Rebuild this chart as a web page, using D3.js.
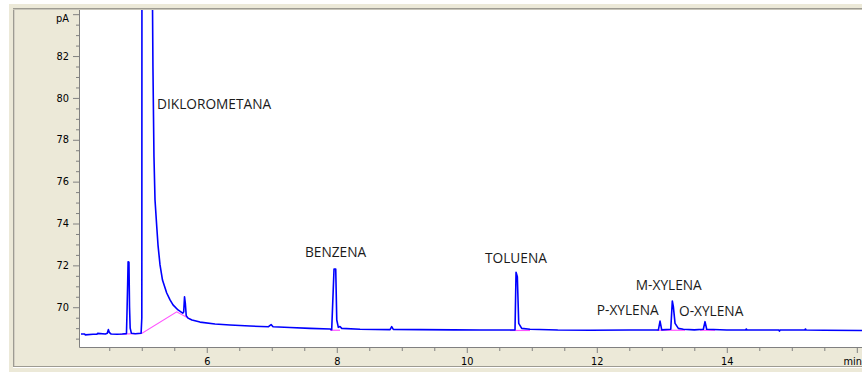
<!DOCTYPE html>
<html><head><meta charset="utf-8">
<script src="https://cdn.jsdelivr.net/npm/d3@7"></script>
<style>
html,body{margin:0;padding:0;background:#fff;}
svg{display:block;}
</style></head>
<body>
<svg id="chart" width="862" height="375"></svg>
<script>
// ---- data (retention time in min, signal in pA) ----
const times = [4.05,4.12,4.13,4.25,4.31,4.32,4.44,4.47,4.486,4.50,4.53,4.62,4.70,4.765,4.775,4.783,4.79,4.803,4.812,4.822,4.84,4.90,4.99,
  5.001,5.004,5.158,5.166,5.172,5.188,5.204,5.230,5.250,5.281,5.319,5.384,5.435,5.481,5.558,5.630,5.645,5.658,5.670,5.684,5.712,5.773,5.896,
  6.127,6.358,6.665,6.95,6.99,7.02,7.28,7.588,7.896,7.922,7.958,7.984,8.000,8.024,8.05,8.076,8.358,8.82,8.845,8.87,9.28,9.8,10.2,
  10.742,10.758,10.778,10.799,10.845,10.973,11.4,11.9,12.5,12.947,12.973,12.999,13.138,13.162,13.178,13.204,13.255,13.332,13.5,
  13.639,13.665,13.691,14.0,14.29,14.30,14.31,14.8,14.81,14.82,15.2,15.21,15.22,15.5,16.08];
const signal = [68.72,68.72,68.68,68.71,68.71,68.75,68.72,68.76,68.93,68.80,68.72,68.71,68.72,68.74,70.0,71.1,72.17,72.15,70.0,69.0,68.76,68.73,68.76,
  69.5,95,95,84.2,81.5,77.18,75.12,73.88,72.97,72.02,71.30,70.68,70.35,70.11,69.87,69.72,69.77,70.50,70.20,69.60,69.48,69.39,69.29,
  69.20,69.15,69.10,69.07,69.17,69.07,69.03,68.99,68.96,68.93,71.83,71.83,69.39,69.04,69.08,68.99,68.95,68.93,69.07,68.94,68.93,68.92,68.91,
  68.91,71.67,71.46,69.23,68.99,68.95,68.91,68.90,68.91,68.91,69.34,68.92,68.95,70.30,70.03,69.23,68.99,68.95,68.92,
  68.95,69.31,68.95,68.91,68.91,68.96,68.91,68.91,68.86,68.91,68.91,68.96,68.91,68.90,68.89];

// integration baselines: [t0, v0, t1, v1, ...]
const baselines = [
  [4.665,68.71, 4.999,68.75, 5.538,69.78, 5.768,69.39],
  [7.896,68.90, 8.05,68.90],
  [10.665,68.89, 10.973,68.89],
  [12.922,68.90, 13.357,68.90],
  [13.589,68.90, 13.82,68.90]
];

const peakNames = ["DIKLOROMETANA","BENZENA","TOLUENA","P-XYLENA","M-XYLENA","O-XYLENA"];
const labelTime = [5.235,7.512,10.281,12.0,12.6,13.265];
const labelSignal = [79.47,72.39,72.13,69.63,70.82,69.56];

const xMajorTicks = [6,8,10,12,14,16];
const xTickLabels = ["6","8","10","12","14","min"];
const yMajorTicks = [70,72,74,76,78,80,82,84];
const yTickLabels = ["70","72","74","76","78","80","82","pA"];

// ---- layout ----
const svg = d3.select("#chart");
const W = 862, H = 375;
const plot = {left:80, top:10, right:862, bottom:347};

const x = d3.scaleLinear().domain([4.05,16.08]).range([plot.left, plot.right]);
const y = d3.scaleLinear().domain([68.10,84.20]).range([plot.bottom, plot.top]);

// frame / window background
svg.append("rect").attr("x",9).attr("y",4).attr("width",W-9).attr("height",368).attr("fill","#ECE9D8");
svg.append("line").attr("x1",13.5).attr("x2",13.5).attr("y1",9).attr("y2",367).attr("stroke","#9d9b92").attr("stroke-width",1);
svg.append("line").attr("x1",14.5).attr("x2",14.5).attr("y1",10).attr("y2",366).attr("stroke","#d4d0c4").attr("stroke-width",1);
svg.append("line").attr("x1",13).attr("x2",W).attr("y1",8.5).attr("y2",8.5).attr("stroke","#9d9b92").attr("stroke-width",1);
svg.append("line").attr("x1",13).attr("x2",W).attr("y1",9.5).attr("y2",9.5).attr("stroke","#c8c5b9").attr("stroke-width",1);
svg.append("line").attr("x1",13).attr("x2",W).attr("y1",366.5).attr("y2",366.5).attr("stroke","#9d9b92").attr("stroke-width",1);
svg.append("line").attr("x1",13).attr("x2",W).attr("y1",367.5).attr("y2",367.5).attr("stroke","#ffffff").attr("stroke-width",1);

// plot area
svg.append("rect").attr("x",plot.left).attr("y",plot.top).attr("width",plot.right-plot.left).attr("height",plot.bottom-plot.top).attr("fill","#fff");

svg.append("defs").append("clipPath").attr("id","clip").append("rect")
  .attr("x",plot.left+1).attr("y",plot.top).attr("width",plot.right-plot.left).attr("height",plot.bottom-plot.top);

// axes
const axisColor = "#808080";
const fontAxis = "'DejaVu Sans', Verdana, sans-serif";

function minorTicks(lo, hi, step){ const a=[]; for(let v=lo; v<=hi+1e-9; v+=step) a.push(+v.toFixed(2)); return a; }
const xMinor = minorTicks(4.5,16,0.5).filter(v => xMajorTicks.indexOf(v) < 0);
const yMinor = minorTicks(68.5,84,0.5).filter(v => yMajorTicks.indexOf(v) < 0);

const gx = svg.append("g").attr("transform",`translate(0,${plot.bottom})`);
gx.call(d3.axisBottom(x).tickValues(xMinor).tickSize(4).tickFormat(""));
gx.append("g").call(d3.axisBottom(x).tickValues(xMajorTicks).tickSize(6).tickPadding(5)
  .tickFormat((d,i)=>xTickLabels[i]));
gx.selectAll("path.domain").remove();
gx.selectAll("line").attr("stroke",axisColor);
gx.selectAll("text").attr("fill","#000").style("font-family",fontAxis).style("font-size","9.8px");
gx.selectAll("text").filter(function(){return d3.select(this).text()==="min";})
  .attr("text-anchor","end").attr("x", W - x(16) - 0.5);

const gy = svg.append("g").attr("transform",`translate(${plot.left},0)`);
gy.call(d3.axisLeft(y).tickValues(yMinor).tickSize(4).tickFormat(""));
gy.append("g").call(d3.axisLeft(y).tickValues(yMajorTicks).tickSize(7).tickPadding(4)
  .tickFormat((d,i)=>yTickLabels[i]));
gy.selectAll("path.domain").remove();
gy.selectAll("line").attr("stroke",axisColor);
gy.selectAll("text").attr("fill","#000").style("font-family",fontAxis).style("font-size","9.8px");
gy.selectAll("text").filter(function(){return d3.select(this).text()==="pA";}).attr("dy","0.75em");

// axis border lines
svg.append("line").attr("x1",plot.left-0.5).attr("x2",plot.left-0.5).attr("y1",plot.top).attr("y2",plot.bottom+0.5).attr("stroke",axisColor);
svg.append("line").attr("x1",plot.left-0.5).attr("x2",plot.right).attr("y1",plot.bottom+0.5).attr("y2",plot.bottom+0.5).attr("stroke",axisColor);

// trace
const pts = times.map((t,i)=>[t,signal[i]]);
const line = d3.line().x(d=>x(d[0])).y(d=>y(d[1]));
const gp = svg.append("g").attr("clip-path","url(#clip)");

gp.selectAll("path.base").data(baselines).join("path")
  .attr("class","base")
  .attr("d", b => { const p=[]; for(let i=0;i<b.length;i+=2) p.push([b[i],b[i+1]]); return line(p); })
  .attr("fill","none").attr("stroke","#ff55ff").attr("stroke-width",1.2);

gp.append("path").datum(pts).attr("d",line)
  .attr("fill","none").attr("stroke","#0000ff").attr("stroke-width",1.6).attr("stroke-linejoin","round");

// peak labels
svg.selectAll("text.peak").data(peakNames).join("text")
  .attr("class","peak")
  .attr("x",(d,i)=>x(labelTime[i]))
  .attr("y",(d,i)=>y(labelSignal[i]))
  .attr("fill","#1a1a1a")
  .style("font-family","'Open Sans', sans-serif")
  .style("font-size","13.7px")
  .text(d=>d);
</script>
</body></html>
